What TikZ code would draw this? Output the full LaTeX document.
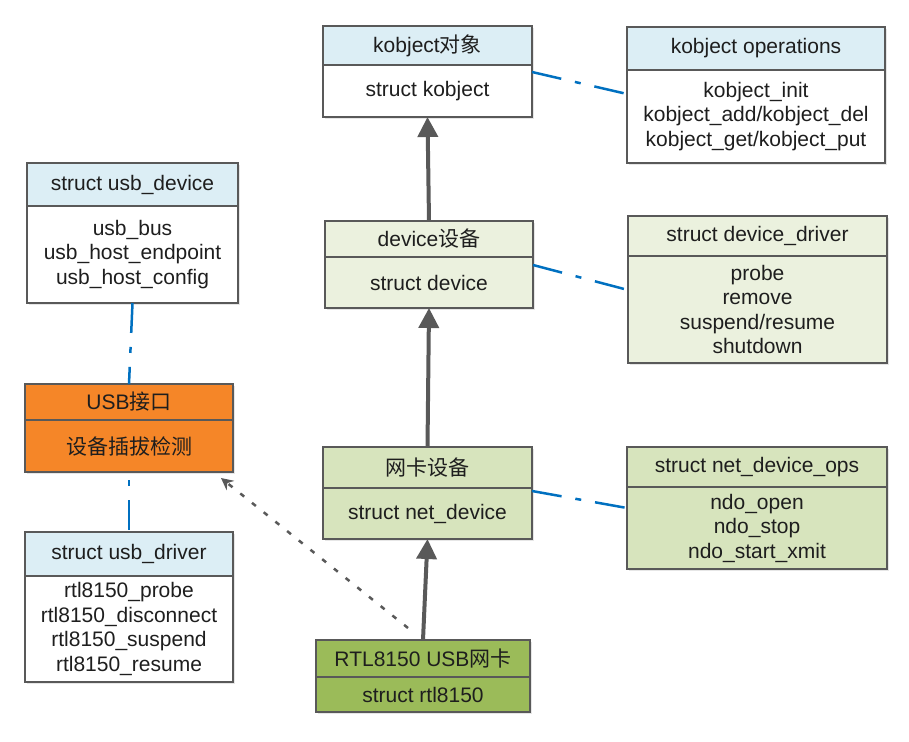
\documentclass[tikz,border=0pt]{standalone}
\usepackage{fontspec}
\setmainfont{Liberation Sans}
\newfontfamily\cjk{Noto Sans CJK SC}
\usetikzlibrary{positioning,arrows.meta,shadows}

\definecolor{lineGray}{RGB}{89,89,89}
\definecolor{hdrBlue}{RGB}{220,238,245}
\definecolor{devGreen}{RGB}{235,241,222}
\definecolor{netGreen}{RGB}{215,228,189}
\definecolor{rtlGreen}{RGB}{155,187,89}
\definecolor{usbOrange}{RGB}{245,134,40}
\definecolor{linkBlue}{RGB}{0,112,192}
\definecolor{txtDark}{RGB}{30,30,30}

\tikzset{
  cls/.style={draw=lineGray, line width=2.2pt, inner sep=0pt, outer sep=0pt, align=center,
    text=txtDark, font=\fontsize{21}{24.5}\selectfont,
    drop shadow={opacity=0.2, shadow xshift=2pt, shadow yshift=-2pt}},
  inherit/.style={draw=lineGray, line width=4pt, -{Triangle[width=20pt,length=20pt]}},
  assoc/.style={draw=linkBlue, line width=2.5pt, dash pattern=on 30pt off 14pt on 6pt off 14pt},
  uses/.style={draw=lineGray, line width=2.5pt, dash pattern=on 5pt off 10pt, -{Stealth[width=12pt,length=12pt]}}
}

\begin{document}
\begin{tikzpicture}[x=1pt,y=1pt,yscale=-1]
\useasboundingbox (0,0) rectangle (909,741);

% kobject
\node[cls, fill=hdrBlue, minimum width=209pt, minimum height=39pt, anchor=north] (kobjH) at (427.5,26) {kobject{\cjk 对象}};
\node[cls, fill=white, minimum width=209pt, minimum height=52pt, below=0pt of kobjH] (kobjB) {struct kobject};

% kobject operations
\node[cls, fill=hdrBlue, minimum width=258pt, minimum height=43pt, anchor=north] (opsH) at (756,27) {kobject operations};
\node[cls, fill=white, minimum width=258pt, minimum height=93pt, below=0pt of opsH] (opsB) {kobject\_init\\kobject\_add/kobject\_del\\kobject\_get/kobject\_put};

% usb_device
\node[cls, fill=hdrBlue, minimum width=211pt, minimum height=43pt, anchor=north] (udevH) at (132.5,163) {struct usb\_device};
\node[cls, fill=white, minimum width=211pt, minimum height=97pt, below=0pt of udevH] (udevB) {usb\_bus\\usb\_host\_endpoint\\usb\_host\_config};

% USB port
\node[cls, fill=usbOrange, minimum width=208pt, minimum height=36pt, anchor=north] (usbH) at (129,384) {USB{\cjk 接口}};
\node[cls, fill=usbOrange, minimum width=208pt, minimum height=52pt, below=0pt of usbH] (usbB) {\cjk 设备插拔检测};

% usb_driver
\node[cls, fill=hdrBlue, minimum width=208pt, minimum height=44pt, anchor=north] (udrvH) at (129,532) {struct usb\_driver};
\node[cls, fill=white, minimum width=208pt, minimum height=106pt, below=0pt of udrvH] (udrvB) {rtl8150\_probe\\rtl8150\_disconnect\\rtl8150\_suspend\\rtl8150\_resume};

% device
\node[cls, fill=devGreen, minimum width=208pt, minimum height=36pt, anchor=north] (devH) at (429,221) {device{\cjk 设备}};
\node[cls, fill=devGreen, minimum width=208pt, minimum height=51pt, below=0pt of devH] (devB) {struct device};

% device_driver
\node[cls, fill=devGreen, minimum width=259pt, minimum height=40pt, anchor=north] (drvH) at (757.5,216) {struct device\_driver};
\node[cls, fill=devGreen, minimum width=259pt, minimum height=107pt, below=0pt of drvH] (drvB) {probe\\remove\\suspend/resume\\shutdown};

% net device
\node[cls, fill=netGreen, minimum width=209pt, minimum height=41pt, anchor=north] (netH) at (427.5,447) {\cjk 网卡设备};
\node[cls, fill=netGreen, minimum width=209pt, minimum height=51pt, below=0pt of netH] (netB) {struct net\_device};

% net_device_ops
\node[cls, fill=netGreen, minimum width=260pt, minimum height=40pt, anchor=north] (nopsH) at (757,447) {struct net\_device\_ops};
\node[cls, fill=netGreen, minimum width=260pt, minimum height=82pt, below=0pt of nopsH] (nopsB) {ndo\_open\\ndo\_stop\\ndo\_start\_xmit};

% rtl8150
\node[cls, fill=rtlGreen, minimum width=214pt, minimum height=37pt, anchor=north] (rtlH) at (423,640) {RTL8150 USB{\cjk 网卡}};
\node[cls, fill=rtlGreen, minimum width=214pt, minimum height=35pt, below=0pt of rtlH] (rtlB) {struct rtl8150};

% inheritance
\draw[inherit] (devH.north) -- (kobjB.south);
\draw[inherit] (netH.north) -- (devB.south);
\draw[inherit] (rtlH.north) -- (netB.south);

% associations
\draw[assoc] ([yshift=7pt]kobjB.north east) -- ([yshift=24pt]opsB.north west);
\draw[assoc] ([yshift=8pt]devB.north east) -- ([yshift=34pt]drvB.north west);
\draw[assoc] ([yshift=3pt]netB.north east) -- ([yshift=21pt]nopsB.north west);
\draw[assoc] (udevB.south) -- (usbH.north);
\draw[assoc, dash phase=36pt] (usbB.south) -- (udrvH.north);

% dependency
\draw[uses] ([xshift=-15pt,yshift=-12pt]rtlH.north) -- ([xshift=-12pt,yshift=6pt]usbB.south east);

\end{tikzpicture}
\end{document}
